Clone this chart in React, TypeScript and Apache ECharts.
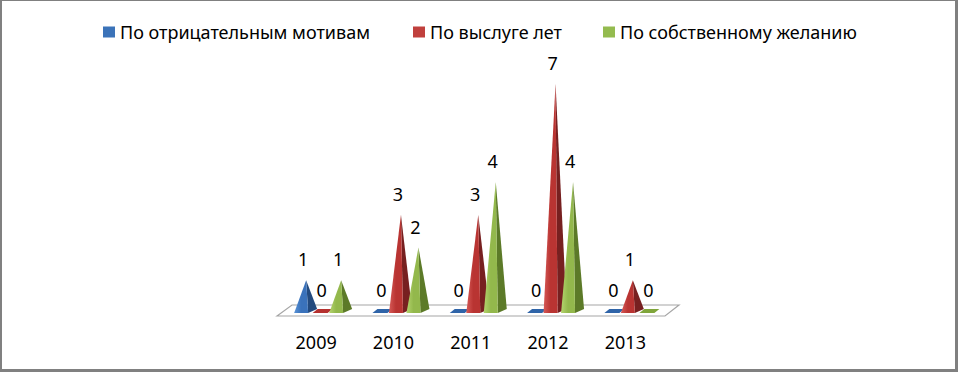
import React, { useEffect, useRef } from "react";
import * as echarts from "echarts";

const categories = ["2009", "2010", "2011", "2012", "2013"];
const seriesNames = ["По отрицательным мотивам", "По выслуге лет", "По собственному желанию"];
const negativeMotives = [1, 0, 0, 0, 0];
const seniority = [0, 3, 3, 7, 1];
const ownWish = [1, 2, 4, 4, 0];

const FONT = "'Noto Sans', 'Open Sans', sans-serif";

const palettes = [
  { light: "#5a93d6", front: "#3a72bb", side: "#234a7e", flat: "#2f64a8", icon: "#3b73b9" },
  { light: "#d65a57", front: "#b93432", side: "#772020", flat: "#b5312f", icon: "#c0403d" },
  { light: "#b4d46e", front: "#93b84c", side: "#5c7a28", flat: "#7fa53a", icon: "#94bb4f" },
];
const offsets = [-10, 7.5, 25];

function makeSeries(idx: number, values: number[]) {
  const pal = palettes[idx];
  const off = offsets[idx];
  return {
    type: "custom",
    name: seriesNames[idx],
    itemStyle: { color: pal.icon },
    data: values.map((v, i) => [i, v]),
    z: 3 + idx,
    renderItem: (params: any, api: any) => {
      const cat = api.value(0);
      const v = api.value(1);
      const base = api.coord([cat, 0]);
      const top = api.coord([cat, v]);
      const cx = base[0] + off;
      const y0 = base[1];
      const children: any[] = [];
      if (v === 0) {
        children.push({
          type: "polygon",
          shape: { points: [[cx - 11, y0], [cx + 4, y0], [cx + 9, y0 - 4], [cx - 6, y0 - 4]] },
          style: { fill: pal.flat },
        });
        children.push({
          type: "text",
          style: {
            text: String(v), x: cx - 2, y: y0 - 23, align: "center", verticalAlign: "middle",
            fill: "#000", fontSize: 18, fontFamily: FONT,
          },
        });
      } else {
        const ax = cx;
        const ay = top[1];
        children.push({
          type: "polygon",
          shape: { points: [[cx + 2, y0], [cx + 11, y0 - 4], [ax, ay]] },
          style: { fill: pal.side },
        });
        children.push({
          type: "polygon",
          shape: { points: [[cx - 12, y0], [cx + 2, y0], [ax, ay]] },
          style: {
            fill: new echarts.graphic.LinearGradient(0, 0, 1, 0, [
              { offset: 0, color: pal.light },
              { offset: 0.5, color: pal.front },
              { offset: 1, color: pal.front },
            ]),
          },
        });
        children.push({
          type: "text",
          style: {
            text: String(v), x: ax - 3, y: ay - 21, align: "center", verticalAlign: "middle",
            fill: "#000", fontSize: 18, fontFamily: FONT,
          },
        });
      }
      return { type: "group", children };
    },
  };
}

export default function App() {
  const ref = useRef<HTMLDivElement>(null);
  useEffect(() => {
    if (!ref.current) return;
    const chart = echarts.init(ref.current, undefined, { renderer: "svg" });
    const legendLefts = [103, 413, 603];
    chart.setOption({
      animation: false,
      backgroundColor: "#ffffff",
      legend: seriesNames.map((n, i) => ({
        data: [{ name: n, icon: "rect", itemStyle: { color: palettes[i].icon } }],
        left: legendLefts[i],
        top: 22,
        padding: 0,
        itemWidth: 12,
        itemHeight: 11,
        itemGap: 5,
        textStyle: { fontSize: 18, fontFamily: FONT, color: "#000", lineHeight: 20 },
        selectedMode: false,
      })),
      grid: { left: 277.5, width: 386.5, top: 51, bottom: 59 },
      xAxis: {
        type: "category",
        data: categories,
        axisLine: { show: false },
        axisTick: { show: false },
        axisLabel: { fontSize: 18, fontFamily: FONT, color: "#000", margin: 20 },
      },
      yAxis: { type: "value", min: 0, max: 8, show: false, splitLine: { show: false } },
      graphic: [
        {
          type: "polygon",
          z: 0,
          shape: { points: [[277, 316], [292, 305], [679, 305], [665, 316]] },
          style: { fill: "#fff", stroke: "#a6a6a6", lineWidth: 1.2 },
        },
        { type: "rect", shape: { x: 0, y: 0, width: 958, height: 1 }, style: { fill: "#808080" } },
        { type: "rect", shape: { x: 0, y: 0, width: 2, height: 372 }, style: { fill: "#808080" } },
        { type: "rect", shape: { x: 955, y: 0, width: 3, height: 372 }, style: { fill: "#808080" } },
        { type: "rect", shape: { x: 0, y: 369, width: 958, height: 3 }, style: { fill: "#808080" } },
      ],
      series: [
        makeSeries(0, negativeMotives),
        makeSeries(1, seniority),
        makeSeries(2, ownWish),
      ],
    });
    return () => chart.dispose();
  }, []);
  return (
    <div
      ref={ref}
      style={{ position: "fixed", left: 0, top: 0, width: 958, height: 372 }}
    />
  );
}
